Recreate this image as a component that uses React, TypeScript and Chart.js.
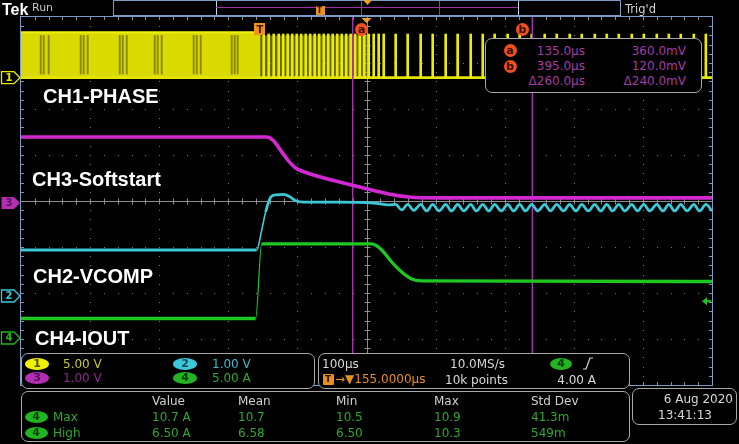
import React, { useEffect, useRef } from 'react';
import { Chart, registerables } from 'chart.js';

Chart.register(...registerables);

const W = 739;
const H = 444;

// ---- time axis (µs) across 10 divisions, vertical axis in divisions ----
const X_MIN = -345;
const X_MAX = 655;
const X_DIV = 100;
const Y_HALF = 4;
const PLOT = { left: 21, top: 17, right: 712, bottom: 385 };

// channel ground position (divisions from centre) and units per division
const CH1 = { pos: 2.68, scale: 5 };
const CH2 = { pos: -2.065, scale: 1 };
const CH3 = { pos: -0.043, scale: 1 };
const CH4 = { pos: -2.978, scale: 5 };

// ---- CH1 PHASE (V) ----
const ch1BlockTimes = [-345, 2];
const ch1BlockLevel = 4.95;
const ch1HazeTimes = [2, 160];
const ch1HazeLevel = 4.6;
const ch1StripeTimes = [-316.4, -312.1, -304.9, -258.6, -254.3, -248.5, -202.1, -197.8, -192.0, -151.5, -147.2, -141.4, -95.1, -90.7, -84.9, -40.1, -35.8, -31.5];
const ch1StripeLow = 0.4;
const ch1StripeHigh = 4.6;
const ch1PulseTimes = [6.2, 13.5, 20.7, 27.9, 34.4, 41.0, 47.5, 54.0, 60.5, 67.0, 73.5, 80.0, 86.5, 93.1, 99.6, 106.1, 112.6, 119.1, 125.6, 132.1, 138.6, 145.2, 151.7, 158.2, 165.4, 172.6, 179.9, 197.2, 214.6, 233.4, 250.8, 269.6, 286.9, 305.8, 323.2, 340.5, 359.3, 376.7, 394.1, 412.9, 430.3, 449.1, 466.5, 485.4, 502.7, 520.1, 538.9, 556.3, 575.1, 592.5, 609.8, 628.7, 646.1];
const ch1PulseLevel = 4.75;
const ch1BaseTimes = [-345, 655];
const ch1BaseVolts = [0, 0];

// ---- CH3 Softstart (V) ----
const ch3Times = [-345, 10.6, 20.7, 32.3, 42.4, 52.5, 64.1, 133.6, 187.1, 216.1, 259.5, 655];
const ch3Volts = [1.435, 1.435, 1.35, 1.11, 0.91, 0.76, 0.68, 0.39, 0.196, 0.13, 0.11, 0.11];

// ---- CH2 VCOMP (V) ----
const ch2Times = [-345, -3.9, 3.3, 9.1, 16.4, 25.0, 35.2, 43.8, 52.5, 64.1, 114.8, 165.4, 187.1,
  197.2, 206, 214.6, 223.5, 233.4, 242, 250.8, 260, 269.6, 278, 286.9, 296, 305.8, 314, 323.2, 332,
  340.5, 350, 359.3, 368, 376.7, 385, 394.1, 403, 412.9, 421, 430.3, 440, 449.1, 458, 466.5, 476,
  485.4, 494, 502.7, 511, 520.1, 529, 538.9, 547, 556.3, 565, 575.1, 584, 592.5, 601, 609.8, 619,
  628.7, 637, 646.1, 655];
const ch2Volts = [1.0, 1.0, 1.43, 1.83, 2.15, 2.2, 2.21, 2.16, 2.07, 2.04, 2.04, 2.02, 1.98,
  1.99, 1.87, 1.99, 1.86, 1.99, 1.85, 1.99, 1.85, 1.99, 1.85, 1.99, 1.85, 1.99, 1.85, 1.99, 1.85,
  1.99, 1.85, 1.99, 1.85, 1.99, 1.85, 1.99, 1.85, 1.99, 1.85, 1.99, 1.85, 1.99, 1.85, 1.99, 1.85,
  1.99, 1.85, 1.99, 1.85, 1.99, 1.85, 1.99, 1.85, 1.99, 1.85, 1.99, 1.85, 1.99, 1.85, 1.99, 1.85,
  1.99, 1.85, 1.99, 1.85];

// ---- CH4 IOUT (A) ----
const ch4Times = [-345, -5.4, 3.3, 162.5, 177, 191.4, 205.9, 220.4, 234.8, 655];
const ch4Amps = [2.12, 2.12, 10.22, 10.22, 9.57, 8.26, 7.17, 6.41, 6.2, 6.14];

// ---- cursors / trigger ----
const cursorTimes = [135, 395];
const cursorNames = ['a', 'b'];
const cursorTimeText = ['135.0µs', '395.0µs', 'Δ260.0µs'];
const cursorVoltText = ['360.0mV', '120.0mV', 'Δ240.0mV'];
const trigTime = 0;
const trigLevelA = 4.0;

// ---- panel texts ----
const measCols = ['Value', 'Mean', 'Min', 'Max', 'Std Dev'];
const measColX = [152, 238, 336, 434, 531];
const measRowNames = ['Max', 'High'];
const measRowMax = ['10.7 A', '10.7', '10.5', '10.9', '41.3m'];
const measRowHigh = ['6.50 A', '6.58', '6.50', '10.3', '549m'];

const UI = '"DejaVu Sans", sans-serif';
const LBL = '"Liberation Sans", Arial, sans-serif';

const toDiv = (ch: { pos: number; scale: number }, v: number) => ch.pos + v / ch.scale;
const xPix = (t: number) => PLOT.left + ((t - X_MIN) / (X_MAX - X_MIN)) * (PLOT.right - PLOT.left);
const yPix = (d: number) => PLOT.top + ((Y_HALF - d) / (2 * Y_HALF)) * (PLOT.bottom - PLOT.top);

const series = (xs: number[], vs: number[], ch: any) => xs.map((t, i) => ({ x: t, y: toDiv(ch, vs[i]) }));

const steepWidth = (thin: number, thick: number, k: number) => (c: any) => {
  const dx = Math.abs(c.p1.x - c.p0.x);
  const dy = Math.abs(c.p1.y - c.p0.y);
  return dy > k * dx ? thin : thick;
};

const scopePlugin = {
  id: 'scope',
  beforeDatasetsDraw(chart: any) {
    const { ctx, scales } = chart;
    const xs = scales.x, ys = scales.y;
    const L = xs.getPixelForValue(X_MIN), R = xs.getPixelForValue(X_MAX);
    const T = ys.getPixelForValue(Y_HALF), B = ys.getPixelForValue(-Y_HALF);
    const nx = (X_MAX - X_MIN) / X_DIV;
    const ny = Y_HALF * 2;
    ctx.save();
    ctx.fillStyle = '#7a7a7a';
    for (let i = 1; i < nx; i++) {
      if (i * 2 === nx) continue;
      const px = Math.round(xs.getPixelForValue(X_MIN + i * X_DIV));
      for (let m = 1; m < ny * 5; m++) {
        const py = Math.round(T + ((B - T) * m) / (ny * 5));
        ctx.fillRect(px, py, 1, 1);
      }
    }
    for (let k = -Y_HALF + 1; k < Y_HALF; k++) {
      if (k === 0) continue;
      const py = Math.round(ys.getPixelForValue(k));
      for (let m = 1; m < nx * 5; m++) {
        const px = Math.round(L + ((R - L) * m) / (nx * 5));
        ctx.fillRect(px, py, 1, 1);
      }
    }
    const cx = Math.round(xs.getPixelForValue((X_MIN + X_MAX) / 2)) + 0.5;
    const cy = Math.round(ys.getPixelForValue(0)) + 0.5;
    ctx.strokeStyle = '#8e8e8e';
    ctx.lineWidth = 1;
    ctx.beginPath();
    ctx.moveTo(L, cy); ctx.lineTo(R, cy);
    ctx.moveTo(cx, T); ctx.lineTo(cx, B);
    for (let m = 1; m < nx * 5; m++) {
      const px = Math.round(L + ((R - L) * m) / (nx * 5)) + 0.5;
      ctx.moveTo(px, cy - 3); ctx.lineTo(px, cy + 3);
      ctx.moveTo(px, T); ctx.lineTo(px, T + 3);
      ctx.moveTo(px, B); ctx.lineTo(px, B - 3);
    }
    for (let m = 1; m < ny * 5; m++) {
      const py = Math.round(T + ((B - T) * m) / (ny * 5)) + 0.5;
      ctx.moveTo(cx - 3, py); ctx.lineTo(cx + 3, py);
      ctx.moveTo(L, py); ctx.lineTo(L + 3, py);
      ctx.moveTo(R, py); ctx.lineTo(R - 3, py);
    }
    ctx.stroke();
    ctx.strokeStyle = '#7c9cc4';
    ctx.strokeRect(L - 0.5, T - 0.5, R - L + 1, B - T + 1);
    ctx.restore();
  },
  afterDatasetsDraw(chart: any) {
    const { ctx, scales } = chart;
    const xs = scales.x, ys = scales.y;
    const T = ys.getPixelForValue(Y_HALF);
    const R = xs.getPixelForValue(X_MAX);
    ctx.save();
    const tx = xs.getPixelForValue(trigTime);
    ctx.fillStyle = '#f0901e';
    ctx.fillRect(Math.round(tx) - 5, T + 6, 11, 12);
    const mx = xs.getPixelForValue((X_MIN + X_MAX) / 2);
    ctx.fillStyle = '#f0a030';
    ctx.beginPath();
    ctx.moveTo(mx - 5, T + 1); ctx.lineTo(mx + 5, T + 1); ctx.lineTo(mx, T + 6); ctx.closePath();
    ctx.fill();
    const ty = ys.getPixelForValue(toDiv(CH4, trigLevelA));
    ctx.fillStyle = '#22c022';
    ctx.beginPath();
    ctx.moveTo(R - 10, ty); ctx.lineTo(R - 5, ty - 4); ctx.lineTo(R - 5, ty + 4); ctx.closePath();
    ctx.fill();
    ctx.fillRect(R - 5, ty - 1, 4, 2);
    ctx.restore();
  },
  afterDraw(chart: any) {
    const { ctx, scales } = chart;
    const ys = scales.y;
    ctx.save();
    ctx.strokeStyle = '#7c9cc4';
    ctx.lineWidth = 1;
    ctx.beginPath();
    ctx.moveTo(113.5, 15.5); ctx.lineTo(113.5, 0.5); ctx.lineTo(620.5, 0.5); ctx.lineTo(620.5, 15.5);
    ctx.moveTo(113, 15.5); ctx.lineTo(621, 15.5);
    ctx.stroke();
    const r0 = 216, r1 = 518;
    const rmap = (t: number) => r0 + ((t - X_MIN) / (X_MAX - X_MIN)) * (r1 - r0);
    ctx.strokeStyle = '#c0d4ec';
    ctx.beginPath();
    ctx.moveTo(r0 + 0.5, 1); ctx.lineTo(r0 + 0.5, 15);
    ctx.moveTo(r1 + 0.5, 1); ctx.lineTo(r1 + 0.5, 15);
    ctx.stroke();
    ctx.strokeStyle = '#a030a8';
    ctx.beginPath();
    ctx.moveTo(r0, 7.5); ctx.lineTo(r1, 7.5);
    cursorTimes.forEach((t) => { const p = Math.round(rmap(t)) + 0.5; ctx.moveTo(p, 1); ctx.lineTo(p, 15); });
    ctx.stroke();
    ctx.fillStyle = '#e8901e';
    ctx.fillRect(Math.round(rmap(trigTime)) - 4, 6, 9, 9);
    ctx.fillStyle = '#f0a030';
    ctx.beginPath();
    ctx.moveTo(363, 0); ctx.lineTo(372, 0); ctx.lineTo(367.5, 5); ctx.closePath();
    ctx.fill();
    const marks = [
      { ch: CH1, color: '#e8e800', filled: false },
      { ch: CH3, color: '#b42db4', filled: true },
      { ch: CH2, color: '#3cc8d8', filled: false },
      { ch: CH4, color: '#22b422', filled: false },
    ];
    marks.forEach((m) => {
      const y = ys.getPixelForValue(m.ch.pos);
      ctx.beginPath();
      ctx.moveTo(1.5, y - 6); ctx.lineTo(14, y - 6); ctx.lineTo(20, y); ctx.lineTo(14, y + 6); ctx.lineTo(1.5, y + 6);
      ctx.closePath();
      if (m.filled) { ctx.fillStyle = m.color; ctx.fill(); }
      else { ctx.strokeStyle = m.color; ctx.lineWidth = 1.3; ctx.stroke(); }
    });
    ctx.restore();
  },
};

function buildConfig(): any {
  const ch1Top = toDiv(CH1, ch1BlockLevel);
  return {
    type: 'line',
    data: {
      datasets: [
        {
          type: 'line', label: 'CH4', order: 1,
          data: series(ch4Times, ch4Amps, CH4),
          borderColor: '#1ec81e', borderWidth: 3.3, pointRadius: 0,
          cubicInterpolationMode: 'monotone',
          segment: { borderWidth: steepWidth(1.2, 3.3, 4) },
        },
        {
          type: 'line', label: 'CH2', order: 2,
          data: series(ch2Times, ch2Volts, CH2),
          borderColor: '#3cc8d6', borderWidth: 2.8, pointRadius: 0,
          cubicInterpolationMode: 'monotone',
          segment: { borderWidth: steepWidth(1.6, 2.8, 3.3) },
        },
        {
          type: 'line', label: 'CH3', order: 3,
          data: series(ch3Times, ch3Volts, CH3),
          borderColor: '#d228d2', borderWidth: 3.6, pointRadius: 0,
          cubicInterpolationMode: 'monotone',
        },
        ...cursorTimes.map((t, i) => ({
          type: 'line', label: 'cursor ' + cursorNames[i], order: 4,
          data: [{ x: t, y: -Y_HALF }, { x: t, y: Y_HALF }],
          borderColor: '#a832b0', borderWidth: 1.4, pointRadius: 0,
        })),
        {
          type: 'bar', label: 'CH1 pulses', order: 5, grouped: false,
          data: ch1PulseTimes.map((t) => ({ x: t, y: [CH1.pos, toDiv(CH1, ch1PulseLevel)] })),
          backgroundColor: '#ecec00', barThickness: 2,
        },
        {
          type: 'line', label: 'CH1 base', order: 6,
          data: series(ch1BaseTimes, ch1BaseVolts, CH1),
          borderColor: '#e4e400', borderWidth: 2.8, pointRadius: 0,
        },
        {
          type: 'line', label: 'CH1 haze', order: 7,
          data: ch1HazeTimes.map((t) => ({ x: t, y: toDiv(CH1, ch1HazeLevel) })),
          borderWidth: 0, pointRadius: 0,
          fill: { value: CH1.pos }, backgroundColor: 'rgba(170,170,0,0.6)',
        },
        {
          type: 'bar', label: 'CH1 stripes', order: 8, grouped: false,
          data: ch1StripeTimes.map((t) => ({ x: t, y: [toDiv(CH1, ch1StripeLow), toDiv(CH1, ch1StripeHigh)] })),
          backgroundColor: '#8a8a06', barThickness: 1.3,
        },
        {
          type: 'line', label: 'CH1 block', order: 9,
          data: ch1BlockTimes.map((t) => ({ x: t, y: ch1Top })),
          borderColor: '#f0f010', borderWidth: 2, pointRadius: 0,
          fill: { value: CH1.pos }, backgroundColor: '#dada00',
        },
      ],
    },
    options: {
      responsive: false,
      animation: false,
      devicePixelRatio: 1,
      events: [],
      layout: { padding: { left: PLOT.left, right: W - PLOT.right, top: PLOT.top, bottom: H - PLOT.bottom } },
      plugins: { legend: { display: false }, tooltip: { enabled: false } },
      scales: {
        x: { type: 'linear', min: X_MIN, max: X_MAX, display: false, offset: false, grid: { offset: false } },
        y: { type: 'linear', min: -Y_HALF, max: Y_HALF, display: false, offset: false },
      },
    },
    plugins: [scopePlugin],
  };
}

type TxtProps = { x: number; cy: number; s: number; c: string; t: string; w?: any; f?: string; align?: 'left' | 'right' | 'center' };
const Txt = ({ x, cy, s, c, t, w = 'normal', f = UI, align = 'left' }: TxtProps) => {
  const lh = Math.round(s * 1.3);
  const st: any = {
    position: 'absolute', top: cy - lh / 2, lineHeight: lh + 'px', height: lh, fontSize: s, color: c,
    fontFamily: f, fontWeight: w, whiteSpace: 'nowrap',
  };
  if (align === 'right') st.right = W - x;
  else if (align === 'center') { st.left = x - 30; st.width = 60; st.textAlign = 'center'; }
  else st.left = x;
  return <div style={st}>{t}</div>;
};

const Badge = ({ cx, cy, w, h, bg, fg, t, round = true, s = 11 }: any) => (
  <div style={{
    position: 'absolute', left: cx - w / 2, top: cy - h / 2, width: w, height: h,
    borderRadius: round ? '50%' : 1, background: bg, color: fg, fontSize: s, lineHeight: h + 'px',
    textAlign: 'center', fontFamily: UI, fontWeight: 'bold',
  }}>{t}</div>
);

const Panel = ({ l, t, w, h }: any) => (
  <div style={{
    position: 'absolute', left: l, top: t, width: w, height: h, boxSizing: 'border-box',
    border: '1px solid #a8a8a8', borderRadius: 7, background: '#000',
  }} />
);

export default function App() {
  const ref = useRef<HTMLCanvasElement>(null);
  useEffect(() => {
    document.body.style.margin = '0';
    document.body.style.background = '#000';
    const chart = new Chart(ref.current as HTMLCanvasElement, buildConfig());
    return () => chart.destroy();
  }, []);

  const ax = xPix(cursorTimes[0]);
  const bx = xPix(cursorTimes[1]);
  const tx = xPix(trigTime);

  return (
    <div style={{ position: 'relative', width: W, height: H, background: '#000', overflow: 'hidden' }}>
      <canvas ref={ref} width={W} height={H} style={{ position: 'absolute', left: 0, top: 0, width: W, height: H }} />

      <Txt x={2} cy={9} s={16} c="#ffffff" t="Tek" w="bold" f={LBL} />
      <Txt x={32} cy={8} s={11} c="#c4c4c4" t="Run" />
      <Txt x={625} cy={9} s={11.5} c="#d0d0d0" t="Trig'd" />
      <Txt x={319.5} cy={11} s={8} c="#3a1a00" t="T" w="bold" align="center" />

      <Txt x={tx + 0.5} cy={PLOT.top + 12} s={10} c="#3a1a00" t="T" w="bold" align="center" />
      <Badge cx={ax + 9} cy={29} w={13} h={13} bg="#f0501e" fg="#3a0c00" t={cursorNames[0]} s={11} />
      <Badge cx={bx - 10} cy={29} w={13} h={13} bg="#f0501e" fg="#3a0c00" t={cursorNames[1]} s={11} />

      <Txt x={9} cy={yPix(CH1.pos)} s={10} c="#e8e800" t="1" w="bold" align="center" />
      <Txt x={9} cy={yPix(CH3.pos)} s={10} c="#5a145a" t="3" w="bold" align="center" />
      <Txt x={9} cy={yPix(CH2.pos)} s={10} c="#3cc8d8" t="2" w="bold" align="center" />
      <Txt x={9} cy={yPix(CH4.pos)} s={10} c="#22b422" t="4" w="bold" align="center" />

      <Txt x={43} cy={96} s={20} c="#ffffff" t="CH1-PHASE" w="bold" f={LBL} />
      <Txt x={32} cy={178.5} s={20} c="#ffffff" t="CH3-Softstart" w="bold" f={LBL} />
      <Txt x={33} cy={276} s={20} c="#ffffff" t="CH2-VCOMP" w="bold" f={LBL} />
      <Txt x={35} cy={337.5} s={20} c="#ffffff" t="CH4-IOUT" w="bold" f={LBL} />

      <Panel l={485} t={38} w={217} h={55} />
      <Badge cx={510} cy={50.5} w={13} h={13} bg="#f0501e" fg="#3a0c00" t={cursorNames[0]} />
      <Badge cx={510} cy={66} w={13} h={13} bg="#f0501e" fg="#3a0c00" t={cursorNames[1]} />
      {cursorTimeText.map((s, i) => (
        <Txt key={'ct' + i} x={585} cy={51 + i * 15} s={12} c="#a43ca4" t={s} align="right" />
      ))}
      {cursorVoltText.map((s, i) => (
        <Txt key={'cv' + i} x={686} cy={51 + i * 15} s={12} c="#a43ca4" t={s} align="right" />
      ))}

      <Panel l={21} t={353} w={294} h={36} />
      <Badge cx={37} cy={364} w={24} h={12} bg="#f0f000" fg="#505000" t="1" />
      <Txt x={63} cy={364} s={12} c="#c8c83c" t="5.00 V" />
      <Badge cx={37} cy={378} w={24} h={12} bg="#b42db4" fg="#501450" t="3" />
      <Txt x={63} cy={378} s={12} c="#8c2a8c" t="1.00 V" />
      <Badge cx={185} cy={364} w={24} h={12} bg="#3cc8d8" fg="#0e4850" t="2" />
      <Txt x={212} cy={364} s={12} c="#40b8c8" t="1.00 V" />
      <Badge cx={185} cy={378} w={24} h={12} bg="#22b422" fg="#0a400a" t="4" />
      <Txt x={212} cy={378} s={12} c="#30a830" t="5.00 A" />

      <Panel l={318} t={353} w={312} h={36} />
      <Txt x={322} cy={364} s={12} c="#d8d8d8" t="100µs" />
      <Badge cx={328} cy={379} w={11} h={11} bg="#e8901e" fg="#2a1000" t="T" round={false} s={9} />
      <Txt x={335} cy={379} s={12} c="#e8901e" t="→▼155.0000µs" />
      <Txt x={450} cy={364} s={12} c="#d8d8d8" t="10.0MS/s" />
      <Txt x={445} cy={380} s={12} c="#d8d8d8" t="10k points" />
      <Badge cx={561} cy={364} w={22} h={12} bg="#22b422" fg="#0a400a" t="4" />
      <svg style={{ position: 'absolute', left: 580, top: 356, width: 16, height: 16 }} width={16} height={16}>
        <polyline points="3,13 6,13 10,2 13,2" fill="none" stroke="#d8d8d8" strokeWidth={1.2} />
      </svg>
      <Txt x={596} cy={380} s={12} c="#d8d8d8" t="4.00 A" align="right" />

      <Panel l={21} t={391} w={609} h={51} />
      {measCols.map((s, i) => (
        <Txt key={'mh' + i} x={measColX[i]} cy={401} s={12} c="#d0d0d0" t={s} />
      ))}
      <Badge cx={36} cy={417} w={23} h={12} bg="#22b422" fg="#0a400a" t="4" />
      <Badge cx={36} cy={433} w={23} h={12} bg="#22b422" fg="#0a400a" t="4" />
      <Txt x={53} cy={417} s={12} c="#2ea82e" t={measRowNames[0]} />
      <Txt x={53} cy={433} s={12} c="#2ea82e" t={measRowNames[1]} />
      {measRowMax.map((s, i) => (
        <Txt key={'mm' + i} x={measColX[i]} cy={417} s={12} c="#2ea82e" t={s} />
      ))}
      {measRowHigh.map((s, i) => (
        <Txt key={'mg' + i} x={measColX[i]} cy={433} s={12} c="#2ea82e" t={s} />
      ))}

      <Panel l={632} t={388} w={105} h={37} />
      <Txt x={733} cy={399} s={12} c="#d8d8d8" t="6 Aug 2020" align="right" />
      <Txt x={658} cy={415} s={12} c="#d8d8d8" t="13:41:13" />
    </div>
  );
}
